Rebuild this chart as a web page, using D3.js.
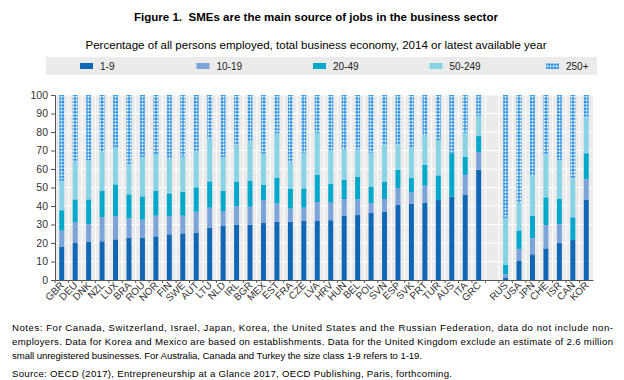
<!DOCTYPE html>
<html><head><meta charset="utf-8">
<script src="https://cdn.jsdelivr.net/npm/d3@7"></script>
<style>
html,body{margin:0;padding:0;background:#fff;}
svg{display:block;}
</style></head>
<body>
<svg id="chart" width="624" height="380"></svg>
<script>
// ---- Data ----
const countries = ["GBR","DEU","DNK","NZL","LUX","BRA","ROU","NOR","FIN","SWE","AUT","LTU","NLD","IRL","BGR","MEX","EST","FRA","CZE","LVA","HRV","HUN","BEL","POL","SVN","ESP","SVK","PRT","TUR","AUS","ITA","GRC","RUS","USA","JPN","CHE","ISR","CAN","KOR"];
const gapAfter = "GRC";
const seriesNames = ["1-9","10-19","20-49","50-249","250+"];
const s1_9 =   [18.0,20.0,20.7,20.9,22.0,22.9,22.9,23.6,24.7,25.2,25.6,28.3,29.2,29.9,29.9,31.0,31.4,31.4,31.9,31.9,32.3,34.8,35.1,36.2,36.9,40.7,41.3,41.8,43.2,45.0,46.1,59.6, 1.4,10.3,13.9,17.1,20.2,21.6,43.4];
const s10_19 = [ 8.7,11.2, 9.6,13.0,12.6,10.4, 9.7,11.2, 9.7, 9.6,11.3,10.8, 8.1,10.1, 9.7,12.2,10.0, 7.3, 7.2,10.3, 9.5, 9.0, 8.5, 5.4, 6.9, 9.0, 6.1, 9.2, 0.0, 0.0,10.8, 9.6, 1.8, 6.5, 8.6,12.6, 9.9, 0.0,11.0];
const s20_49 = [11.0,12.4,13.3,14.2,17.1,13.0,12.6,13.3,12.4,12.9,13.2,14.2,10.8,13.2,13.9, 8.3,13.9,10.5,10.4,14.7,10.1,10.4,12.3, 8.9, 9.4, 9.9, 7.9,11.3,13.4,23.5, 9.8, 8.6, 4.9,10.0,12.1,15.0,13.7,12.3,14.1];
const s50_249 =[15.5,19.8,21.1,21.3,20.2,16.2,21.1,20.0,18.6,19.0,19.3,23.3,18.2,19.6,21.1,16.8,23.8,14.4,19.3,22.7,18.2,16.4,14.7,18.3,19.8,13.6,16.4,16.1,19.1, 0.0,12.9,11.0,25.2,14.6,22.0,23.2,21.1,20.5,19.4];
const s250 =   [46.8,36.6,35.3,30.6,28.1,37.5,33.7,31.9,34.6,33.3,30.6,23.4,33.7,27.2,25.4,31.7,20.9,36.4,31.2,20.4,29.9,29.4,29.4,31.2,27.0,26.8,28.3,21.6,24.3,31.5,20.4,11.2,66.7,58.6,43.4,32.1,35.1,45.6,12.1];
const yTicks = [0,10,20,30,40,50,60,70,80,90,100];
const titleText = "Figure 1.  SMEs are the main source of jobs in the business sector";
const subtitleText = "Percentage of all persons employed, total business economy, 2014 or latest available year";
const notesLines = [
  "Notes: For Canada, Switzerland, Israel, Japan, Korea, the United States and the Russian Federation, data do not include non-",
  "employers. Data for Korea and Mexico are based on establishments. Data for the United Kingdom exclude an estimate of 2.6 million",
  "small unregistered businesses. For Australia, Canada and Turkey the size class 1-9 refers to 1-19."
];
const sourceText = "Source: OECD (2017), Entrepreneurship at a Glance 2017, OECD Publishing, Paris, forthcoming.";

// ---- Setup ----
const svg = d3.select("#chart");
const FONT = "'Liberation Sans', Arial, sans-serif";
const colors = ["#0f67b6","#7ba4da","#00a8cc","#88d3e5","url(#pat250)"];

const defs = svg.append("defs");
const pat = defs.append("pattern").attr("id","pat250").attr("patternUnits","userSpaceOnUse")
  .attr("width",3).attr("height",3.4);
pat.append("rect").attr("width",3).attr("height",3.4).attr("fill","#3497e4");
pat.append("circle").attr("cx",1.5).attr("cy",1.7).attr("r",1.0).attr("fill","#ffffff");

const keys = [];
countries.forEach(c => { keys.push(c); if (c === gapAfter) keys.push("__gap"); });

const rows = countries.map((c,i) => ({country:c, "1-9":s1_9[i], "10-19":s10_19[i], "20-49":s20_49[i], "50-249":s50_249[i], "250+":s250[i]}));
const stacked = d3.stack().keys(seriesNames)(rows);

const plot = {left:55, right:593, top:95, bottom:280};
const xs = d3.scaleBand().domain(keys).range([plot.left, plot.right]).padding(0);
const x = d3.scaleBand().domain(keys).range([plot.left, plot.right]).paddingInner(0.63).paddingOuter(0.315);
const y = d3.scaleLinear().domain([0,100]).range([plot.bottom, plot.top]);

// Title
svg.append("text").attr("x",316).attr("y",21).attr("text-anchor","middle")
  .attr("xml:space","preserve").style("white-space","pre")
  .attr("font-family",FONT).attr("font-weight","bold").attr("font-size",10.8)
  .attr("textLength",364).attr("lengthAdjust","spacingAndGlyphs")
  .attr("fill","#000").text(titleText);
svg.append("text").attr("x",316).attr("y",49).attr("text-anchor","middle")
  .attr("font-family",FONT).attr("font-size",10.8)
  .attr("textLength",461).attr("lengthAdjust","spacingAndGlyphs")
  .attr("fill","#000").text(subtitleText);

// Legend
svg.append("rect").attr("x",46).attr("y",57).attr("width",551).attr("height",18).attr("fill","#ebebeb");
const legX = d3.scalePoint().domain(seriesNames).range([80,546]);
const leg = svg.selectAll("g.leg").data(seriesNames).join("g").attr("class","leg")
  .attr("transform", d => `translate(${legX(d)},0)`);
leg.append("rect").attr("x",0).attr("y",63).attr("width",13).attr("height",6)
  .attr("fill",(d,i)=>colors[i]);
leg.append("text").attr("x",20).attr("y",70).attr("font-family",FONT).attr("font-size",10)
  .attr("fill","#222").text(d=>d);

// Plot background
svg.append("rect").attr("x",plot.left).attr("y",plot.top).attr("width",plot.right-plot.left)
  .attr("height",plot.bottom-plot.top).attr("fill","#ebebeb");
// vertical white gridlines at band boundaries
svg.append("g").selectAll("line").data(keys.slice(1)).join("line")
  .attr("x1",d=>xs(d)).attr("x2",d=>xs(d)).attr("y1",plot.top).attr("y2",plot.bottom)
  .attr("stroke","#fff").attr("stroke-width",1);
// horizontal white gridlines
svg.append("g").selectAll("line").data(yTicks.slice(1)).join("line")
  .attr("x1",plot.left).attr("x2",plot.right).attr("y1",d=>y(d)).attr("y2",d=>y(d))
  .attr("stroke","#fff").attr("stroke-width",1);

// Bars
svg.append("g").selectAll("g").data(stacked).join("g")
  .attr("fill",(d,i)=>colors[i])
  .selectAll("rect").data(d=>d).join("rect")
  .attr("x",d=>x(d.data.country)).attr("width",x.bandwidth())
  .attr("y",d=>y(d[1])).attr("height",d=>Math.max(0,y(d[0])-y(d[1])));

// Y axis
const yAxis = d3.axisLeft(y).tickValues(yTicks).tickSize(4).tickPadding(3);
const gy = svg.append("g").attr("transform",`translate(${plot.left},0)`).call(yAxis);
gy.select(".domain").attr("stroke","#555");
gy.selectAll(".tick line").attr("stroke","#555");
gy.selectAll(".tick text").attr("font-family",FONT).attr("font-size",10.5).attr("fill","#333");

// X axis
const xAxis = d3.axisBottom(xs).tickSize(0).tickFormat(d => d === "__gap" ? "" : d);
const gx = svg.append("g").attr("transform",`translate(0,${plot.bottom})`).call(xAxis);
gx.select(".domain").attr("stroke","#555");
gx.selectAll(".tick text")
  .attr("font-family",FONT).attr("font-size",10).attr("fill","#333")
  .attr("text-anchor","end").attr("dy",0).attr("dx",0)
  .attr("transform","translate(3,6) rotate(-45)")
  .attr("y",0);
// tick marks at band boundaries
svg.append("g").selectAll("line").data(keys).join("line")
  .attr("x1",d=>xs(d)).attr("x2",d=>xs(d)).attr("y1",plot.bottom).attr("y2",plot.bottom+3)
  .attr("stroke","#555");

// Notes
const notesY = [331,345,359];
const notesLen = [601,601,410];
svg.selectAll("text.note").data(notesLines).join("text").attr("class","note")
  .attr("x",12).attr("y",(d,i)=>notesY[i])
  .attr("font-family",FONT).attr("font-size",9.6).attr("fill","#000")
  .attr("textLength",(d,i)=>notesLen[i]).attr("lengthAdjust","spacing")
  .text(d=>d);
svg.append("text").attr("x",12).attr("y",377)
  .attr("font-family",FONT).attr("font-size",9.6).attr("fill","#000")
  .attr("textLength",440).attr("lengthAdjust","spacing").text(sourceText);
</script>
</body></html>
